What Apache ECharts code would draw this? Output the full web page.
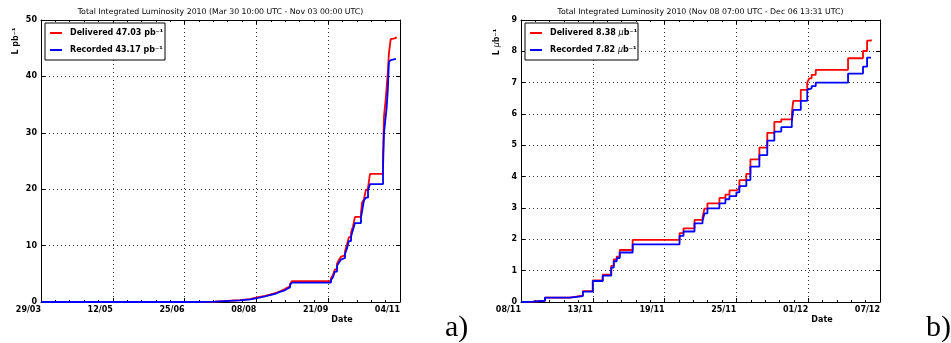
<!DOCTYPE html>
<html>
<head>
<meta charset="utf-8">
<script src="https://cdn.jsdelivr.net/npm/echarts@6/dist/echarts.min.js"></script>
<style>
  html, body { margin: 0; background: #fff; }
  #main { width: 951px; height: 343px; }
</style>
</head>
<body>
<div id="main"></div>
<script>
// panel a) : days since 29/03/2010
const daysA = [0, 97.4, 106.6, 121.9, 128.1, 132.4, 137.3, 140.3, 144.0, 146.4, 148.9, 150.7, 152.6, 153.8,
  177.7, 178.9, 180.1, 181.4, 182.6, 183.8, 185.0, 186.3, 187.5, 188.7, 190.0, 191.2, 192.4, 196.1, 196.7,
  197.9, 199.1, 200.4, 201.6, 209.6, 210.2, 211.1, 211.8, 212.6, 213.2, 214.3, 215.4, 217.5];
const deliveredA = [0, 0.05, 0.35, 0.5, 0.8, 1.1, 1.3, 1.6, 1.9, 2.2, 2.5, 2.8, 3.2, 3.7,
  4.2, 4.8, 5.8, 6.8, 7.5, 8.0, 8.3, 9.0, 10.2, 11.5, 12.3, 13.4, 15.1, 15.8, 17.6,
  18.2, 19.9, 20.3, 22.7, 26, 33, 35.5, 38, 41, 44.1, 46.6, 46.8, 47.03];
const recordedA = [0, 0.05, 0.3, 0.45, 0.7, 1.0, 1.2, 1.5, 1.8, 2.0, 2.3, 2.6, 3.0, 3.45,
  3.9, 4.4, 5.4, 6.4, 7.0, 7.5, 7.8, 8.5, 9.5, 10.8, 11.6, 12.8, 14.0, 15.0, 16.0,
  18.0, 18.5, 19.8, 20.9, 24, 30, 32.5, 34.4, 38, 42.5, 42.9, 43.1, 43.17];
const ticksA = ['29/03', '12/05', '25/06', '08/08', '21/09', '04/11'];

// panel b) : days from the left edge of the axis
const daysB = [0, 0.17, 1.0, 2.0, 4.08, 5.17, 6.0, 6.83, 7.54, 7.75, 8.0, 8.25, 9.33, 13.25, 13.58,
  14.5, 15.17, 15.33, 15.58, 16.58, 17.08, 17.42, 18.0, 18.25, 18.83, 19.17, 19.92, 20.58, 21.17,
  21.75, 22.63, 22.75, 23.38, 23.92, 24.08, 24.29, 24.63, 27.33, 28.58, 28.92, 29.25];
const deliveredB = [0, 0.01, 0.04, 0.14, 0.2, 0.35, 0.69, 0.87, 1.15, 1.36, 1.45, 1.66, 1.98, 2.2, 2.35,
  2.62, 2.7, 2.98, 3.15, 3.32, 3.43, 3.56, 3.62, 3.89, 4.09, 4.55, 4.93, 5.4, 5.75,
  5.83, 6.02, 6.42, 6.77, 7.0, 7.14, 7.25, 7.41, 7.78, 8.01, 8.34, 8.38];
const recordedB = [0, 0.01, 0.04, 0.14, 0.19, 0.33, 0.67, 0.84, 1.1, 1.3, 1.4, 1.58, 1.84, 2.11, 2.25,
  2.51, 2.58, 2.83, 2.99, 3.15, 3.28, 3.38, 3.5, 3.7, 3.89, 4.32, 4.69, 5.15, 5.44,
  5.58, 5.75, 6.13, 6.42, 6.77, 6.82, 6.89, 7.0, 7.29, 7.51, 7.8, 7.82];
const ticksB = ['08/11', '13/11', '19/11', '25/11', '01/12', '07/12'];

const FONT = 'DejaVu Sans';
const FS = 8;
const chart = echarts.init(document.getElementById('main'), null, {renderer: 'canvas'});

function pairs(xs, ys) {
  return xs.map((x, i) => [x, ys[i]]);
}

function xAxes(grid, max, interval, labels) {
  const base = {
    type: 'value', gridIndex: grid, min: 0, max: max, interval: interval,
    axisLine: {show: true, onZero: false, lineStyle: {color: '#000', width: 1}},
    axisTick: {show: true, inside: true, length: 4, lineStyle: {color: '#000'}},
    minorTick: {show: true, splitNumber: 5, length: 2, lineStyle: {color: '#000'}},
  };
  return [
    Object.assign({}, base, {
      position: 'bottom',
      axisLabel: {
        fontFamily: FONT, fontWeight: 'bold', fontSize: FS, color: '#000',
        align: 'right', margin: 4, showMinLabel: true, showMaxLabel: true,
        formatter: v => labels[Math.round(v / interval)]
      },
      splitLine: {show: true, lineStyle: {color: '#333', type: [1, 3], width: 1}}
    }),
    Object.assign({}, base, {position: 'top', axisLabel: {show: false}, splitLine: {show: false}})
  ];
}

function yAxes(grid, max, interval) {
  const base = {
    type: 'value', gridIndex: grid, min: 0, max: max, interval: interval,
    axisLine: {show: true, onZero: false, lineStyle: {color: '#000', width: 1}},
    axisTick: {show: true, inside: true, length: 4, lineStyle: {color: '#000'}},
  };
  return [
    Object.assign({}, base, {
      position: 'left',
      axisLabel: {fontFamily: FONT, fontWeight: 'bold', fontSize: FS, color: '#000', margin: 4},
      splitLine: {show: true, lineStyle: {color: '#333', type: [1, 3], width: 1}}
    }),
    Object.assign({}, base, {position: 'right', axisLabel: {show: false}, splitLine: {show: false}})
  ];
}

function line(name, color, xi, yi, data) {
  return {
    name: name, type: 'line', step: 'end', xAxisIndex: xi, yAxisIndex: yi,
    data: data, showSymbol: false, symbol: 'none',
    lineStyle: {color: color, width: 1.8}, itemStyle: {color: color}
  };
}

const richUnit = {
  b: {fontFamily: FONT, fontWeight: 'bold', fontSize: FS},
  i: {fontFamily: FONT, fontStyle: 'italic', fontSize: FS}
};

function legendBox(x, y, w, unit, delivered, recorded) {
  const txt = (label, v) => label + ' ' + v.toFixed(2) + ' ';
  return {
    type: 'group', x: x, y: y,
    children: [
      {type: 'rect', z: 100, shape: {x: 0, y: 0, width: w, height: 37}, style: {fill: '#fff', stroke: '#000', lineWidth: 1}},
      {type: 'line', z: 101, shape: {x1: 5, y1: 10, x2: 17, y2: 10}, style: {stroke: '#f00', lineWidth: 2}},
      {type: 'line', z: 101, shape: {x1: 5, y1: 27, x2: 17, y2: 27}, style: {stroke: '#00f', lineWidth: 2}},
      {type: 'text', z: 101, x: 25, y: 10, style: {text: '{b|' + txt('Delivered', delivered) + '}' + unit, rich: richUnit, verticalAlign: 'middle', fill: '#000'}},
      {type: 'text', z: 101, x: 25, y: 27, style: {text: '{b|' + txt('Recorded', recorded) + '}' + unit, rich: richUnit, verticalAlign: 'middle', fill: '#000'}}
    ]
  };
}

const last = arr => arr[arr.length - 1];
const titleStyle = {fontFamily: FONT, fontSize: 7.8, fill: '#000', align: 'center', verticalAlign: 'middle'};
const boldStyle = {fontFamily: FONT, fontSize: FS, fontWeight: 'bold', fill: '#000', align: 'center', verticalAlign: 'middle'};

chart.setOption({
  animation: false,
  grid: [
    {left: 41, right: 551, top: 20, bottom: 41, show: false},
    {left: 521, right: 71, top: 20, bottom: 41, show: false}
  ],
  xAxis: xAxes(0, 220, 44, ticksA).concat(xAxes(1, 30, 6, ticksB)),
  yAxis: yAxes(0, 50, 10).concat(yAxes(1, 9, 1)),
  series: [
    line('Delivered', '#ff0000', 0, 0, pairs(daysA, deliveredA)),
    line('Recorded', '#0000ff', 0, 0, pairs(daysA, recordedA)),
    line('Delivered', '#ff0000', 2, 2, pairs(daysB, deliveredB)),
    line('Recorded', '#0000ff', 2, 2, pairs(daysB, recordedB))
  ],
  graphic: [
    {type: 'text', x: 220.5, y: 12, style: Object.assign({text: 'Total Integrated Luminosity 2010 (Mar 30 10:00 UTC - Nov 03 00:00 UTC)'}, titleStyle)},
    {type: 'text', x: 700.5, y: 12, style: Object.assign({text: 'Total Integrated Luminosity 2010 (Nov 08 07:00 UTC - Dec 06 13:31 UTC)'}, titleStyle)},
    {type: 'text', x: 342, y: 320, style: Object.assign({text: 'Date'}, boldStyle)},
    {type: 'text', x: 822, y: 320, style: Object.assign({text: 'Date'}, boldStyle)},
    {type: 'text', x: 16, y: 41, rotation: Math.PI / 2, style: {text: '{b|L pb⁻¹}', rich: richUnit, align: 'center', verticalAlign: 'middle'}},
    {type: 'text', x: 497, y: 42, rotation: Math.PI / 2, style: {text: '{b|L }{i|μ}{b|b⁻¹}', rich: richUnit, align: 'center', verticalAlign: 'middle'}},
    legendBox(45, 23, 120, '{b|pb⁻¹}', last(deliveredA), last(recordedA)),
    legendBox(525, 23, 113, '{i|μ}{b|b⁻¹}', last(deliveredB), last(recordedB)),
    {type: 'text', x: 445, y: 343, style: {text: 'a)', fontFamily: 'Liberation Serif', fontSize: 30, fill: '#000', verticalAlign: 'bottom'}},
    {type: 'text', x: 926, y: 343, style: {text: 'b)', fontFamily: 'Liberation Serif', fontSize: 30, fill: '#000', verticalAlign: 'bottom'}}
  ]
});
</script>
</body>
</html>
